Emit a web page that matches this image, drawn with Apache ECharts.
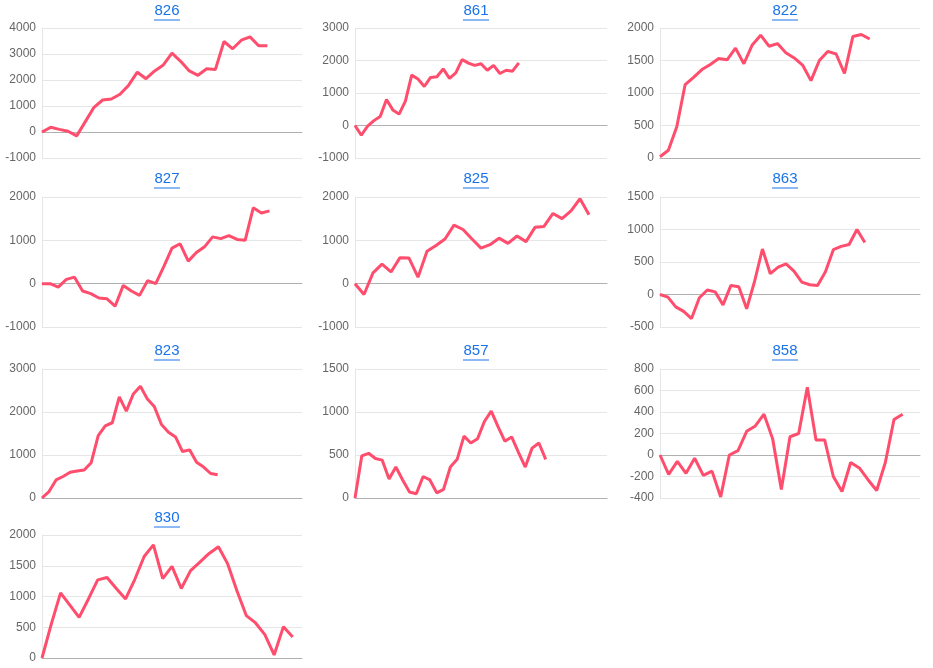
<!DOCTYPE html>
<html><head><meta charset="utf-8">
<script src="https://cdn.jsdelivr.net/npm/echarts@6/dist/echarts.min.js"></script>
<style>html,body{margin:0;padding:0;background:#fff}#c{width:933px;height:668px}</style>
</head><body><div id="c"></div>
<script>
const titles = ['826','861','822','827','825','863','823','857','858','830'];
const catCounts = [31,41,32,33,29,34,38,38,31,29];
const v826 = [0,180,100,30,-150,400,950,1230,1270,1450,1800,2300,2050,2350,2580,3030,2720,2350,2180,2430,2400,3480,3200,3530,3660,3320,3320];
const v861 = [0,-300,-20,150,280,800,480,350,750,1550,1430,1200,1480,1500,1740,1450,1620,2030,1920,1850,1900,1700,1850,1600,1700,1670,1930];
const v822 = [20,120,480,1130,1240,1360,1440,1530,1510,1690,1450,1740,1890,1720,1760,1620,1540,1430,1190,1500,1640,1600,1300,1870,1900,1830];
const v827 = [0,0,-80,100,150,-170,-230,-330,-350,-520,-40,-170,-270,70,0,400,820,920,520,720,850,1080,1040,1110,1020,1000,1750,1630,1680];
const v825 = [0,-250,250,450,270,600,590,150,750,880,1030,1350,1250,1030,820,900,1050,930,1100,970,1300,1320,1620,1500,1680,1960,1590];
const v863 = [0,-40,-190,-260,-370,-50,70,40,-160,140,120,-220,200,700,320,420,470,360,190,150,140,350,690,740,770,1000,800];
const v823 = [0,150,420,500,600,630,650,820,1450,1680,1750,2350,2020,2420,2600,2300,2120,1710,1530,1420,1080,1120,830,720,570,540];
const v857 = [0,490,520,460,440,220,360,210,70,50,250,210,60,100,360,450,720,640,690,890,1010,830,660,710,530,360,580,640,450];
const v858 = [0,-180,-60,-170,-30,-190,-150,-390,0,40,220,270,380,150,-320,170,200,630,140,140,-200,-340,-70,-120,-230,-330,-70,330,380];
const v830 = [0,550,1060,860,660,960,1270,1310,1130,960,1280,1650,1840,1290,1490,1130,1420,1560,1700,1810,1530,1090,690,570,380,50,510,340];
const values = [v826,v861,v822,v827,v825,v863,v823,v857,v858,v830];
const yMin = [-1000,-1000,0,-1000,-1000,-500,0,0,-400,0];
const yMax = [4000,3000,2000,2000,2000,1500,3000,1500,800,2000];
const yStep = [1000,1000,500,1000,1000,500,1000,500,200,500];

const colLeft = [42,355,660], colW = [260,252,260];
const rowTop = [28,197,369,535], rowH = [130,130,129,123];
const titleTop = [3,171,343,510];

const chart = echarts.init(document.getElementById('c'));
const grid=[],xAxis=[],yAxis=[],series=[],title=[],graphic=[];
values.forEach((vals,i)=>{
  const r=Math.floor(i/3), c=i%3;
  grid.push({left:colLeft[c],top:rowTop[r],width:colW[c],height:rowH[r]});
  const cats=[]; for(let k=0;k<catCounts[i];k++) cats.push(String(k+1));
  xAxis.push({gridIndex:i,type:'category',data:cats,boundaryGap:false,
    axisLabel:{show:false},axisTick:{show:false},
    axisLine:{lineStyle:{color:'#b0b0b0'}}});
  yAxis.push({gridIndex:i,type:'value',min:yMin[i],max:yMax[i],interval:yStep[i],
    axisLine:{show:true,lineStyle:{color:'#e6e6e6'}},axisTick:{show:false},
    axisLabel:{color:'#666',fontSize:12,fontFamily:'Arial, Liberation Sans',margin:6,formatter:v=>String(v)},
    splitLine:{lineStyle:{color:'#e6e6e6'}}});
  series.push({type:'line',xAxisIndex:i,yAxisIndex:i,data:vals,showSymbol:false,
    lineStyle:{color:'#ff4d6d',width:3},itemStyle:{color:'#ff4d6d'},animation:false});
  const cx=colLeft[c]+colW[c]/2 - 5;
  title.push({text:titles[i],left:cx,top:titleTop[r],textAlign:'center',padding:0,
    textStyle:{color:'#1a73e8',fontSize:15,fontWeight:'normal',fontFamily:'Arial, Liberation Sans'}});
  graphic.push({type:'line',shape:{x1:cx-13,y1:titleTop[r]+17,x2:cx+13,y2:titleTop[r]+17},
    style:{stroke:'#1a73e8',lineWidth:1}});
});
chart.setOption({animation:false,title,grid,xAxis,yAxis,series,graphic});
</script></body></html>
